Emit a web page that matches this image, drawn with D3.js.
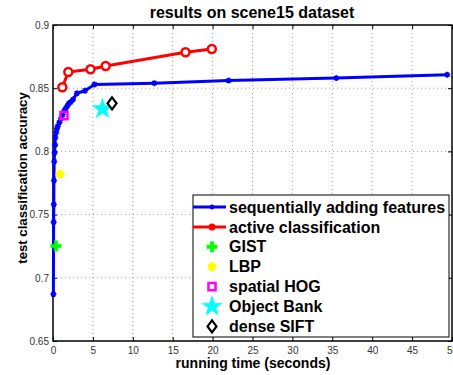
<!DOCTYPE html>
<html>
<head>
<meta charset="utf-8">
<script src="https://cdn.jsdelivr.net/npm/d3@7"></script>
<style>
  body { margin: 0; background: #fff; }
  svg { display: block; font-family: "Liberation Sans", Arial, sans-serif; }
</style>
</head>
<body>
<div id="chart"></div>
<script>
// data
const seqTime = [0.05, 0.08, 0.1, 0.12, 0.15, 0.2, 0.25, 0.3, 0.4, 0.5, 0.6, 0.8, 1.0, 1.2, 1.4, 1.6, 1.8, 2.0, 2.2, 2.5, 3.0, 4.0, 5.2, 12.7, 22.0, 35.5, 49.4];
const seqAcc = [0.687, 0.744, 0.758, 0.777, 0.792, 0.799, 0.805, 0.811, 0.815, 0.818, 0.820, 0.823, 0.826, 0.829, 0.832, 0.834, 0.836, 0.838, 0.839, 0.841, 0.846, 0.848, 0.853, 0.854, 0.856, 0.858, 0.8607];
const activeTime = [1.17, 1.92, 4.7, 6.6, 16.6, 19.9];
const activeAcc = [0.8507, 0.8628, 0.865, 0.8676, 0.8784, 0.881];
const singleNames = ["GIST", "LBP", "spatial HOG", "Object Bank", "dense SIFT"];
const singleTime = [0.375, 0.875, 1.375, 6.2, 7.4];
const singleAcc = [0.7252, 0.782, 0.8283, 0.8336, 0.838];
const xTicks = [0, 5, 10, 15, 20, 25, 30, 35, 40, 45, 50];
const yTicks = [0.65, 0.7, 0.75, 0.8, 0.85, 0.9];

const W = 453, H = 375;
const m = { left: 53, right: 1, top: 25, bottom: 34 };

const svg = d3.select("#chart").append("svg")
  .attr("width", W).attr("height", H);

const x = d3.scaleLinear().domain([0, 50]).range([m.left, W - m.right]);
const y = d3.scaleLinear().domain([0.65, 0.9]).range([H - m.bottom, m.top]);

// grid (dotted)
const grid = svg.append("g").attr("stroke", "#999").attr("stroke-dasharray", "1,3").attr("stroke-width", 1);
grid.selectAll("line.vx").data(xTicks.slice(1, -1)).enter().append("line")
  .attr("x1", d => x(d)).attr("x2", d => x(d)).attr("y1", y(0.9)).attr("y2", y(0.65));
grid.selectAll("line.hy").data(yTicks.slice(1, -1)).enter().append("line")
  .attr("x1", x(0)).attr("x2", x(50)).attr("y1", d => y(d)).attr("y2", d => y(d));

// axes with inward ticks
const fmtY = d => d3.format("")(+d.toFixed(2));
svg.append("g").attr("transform", `translate(0,${y(0.65)})`)
  .call(d3.axisBottom(x).tickValues(xTicks).tickSizeInner(-4).tickSizeOuter(0).tickPadding(6))
  .call(g => g.select(".domain").remove());
svg.append("g").attr("transform", `translate(0,${y(0.9)})`)
  .call(d3.axisTop(x).tickValues(xTicks).tickSizeInner(-4).tickSizeOuter(0).tickFormat(""))
  .call(g => g.select(".domain").remove());
svg.append("g").attr("transform", `translate(${x(0)},0)`)
  .call(d3.axisLeft(y).tickValues(yTicks).tickFormat(fmtY).tickSizeInner(-4).tickSizeOuter(0).tickPadding(4))
  .call(g => g.select(".domain").remove());
svg.append("g").attr("transform", `translate(${x(50)},0)`)
  .call(d3.axisRight(y).tickValues(yTicks).tickSizeInner(-4).tickSizeOuter(0).tickFormat(""))
  .call(g => g.select(".domain").remove());
svg.selectAll(".tick text").attr("font-size", 10).attr("fill", "#333")
  .attr("font-family", "Liberation Sans, Arial, sans-serif");
svg.selectAll(".tick line").attr("stroke", "#000");

// frame
svg.append("rect").attr("x", x(0)).attr("y", y(0.9))
  .attr("width", x(50) - x(0)).attr("height", y(0.65) - y(0.9))
  .attr("fill", "none").attr("stroke", "#000").attr("stroke-width", 1.5);

// series
const seq = seqTime.map((t, i) => [t, seqAcc[i]]);
const act = activeTime.map((t, i) => [t, activeAcc[i]]);
const line = d3.line().x(d => x(d[0])).y(d => y(d[1]));

function asterisk(g, cx, cy, s, color) {
  g.append("path")
    .attr("d", `M${cx - s},${cy}H${cx + s}M${cx},${cy - s}V${cy + s}M${cx - s * 0.7},${cy - s * 0.7}L${cx + s * 0.7},${cy + s * 0.7}M${cx - s * 0.7},${cy + s * 0.7}L${cx + s * 0.7},${cy - s * 0.7}`)
    .attr("stroke", color).attr("stroke-width", 1.6).attr("fill", "none");
}

svg.append("path").datum(seq).attr("d", line)
  .attr("fill", "none").attr("stroke", "#0000ff").attr("stroke-width", 3).attr("stroke-linejoin", "round");
const seqG = svg.append("g");
seq.forEach(d => asterisk(seqG, x(d[0]), y(d[1]), 3, "#0000ff"));

svg.append("path").datum(act).attr("d", line)
  .attr("fill", "none").attr("stroke", "#ff0000").attr("stroke-width", 3).attr("stroke-linejoin", "round");
svg.append("g").selectAll("circle").data(act).enter().append("circle")
  .attr("cx", d => x(d[0])).attr("cy", d => y(d[1])).attr("r", 4)
  .attr("fill", "#fff").attr("stroke", "#ff0000").attr("stroke-width", 2.5);

// single feature markers
const symbols = [
  { type: d3.symbolCross, size: 60, fill: "#00ff00", stroke: "#00ff00", sw: 0.5 },
  { type: d3.symbolCircle, size: 55, fill: "#ffff00", stroke: "#ffff00", sw: 0.5 },
  { type: d3.symbolSquare, size: 50, fill: "none", stroke: "#ff00ff", sw: 2.5 },
  { type: d3.symbolStar, size: 130, fill: "#00ffff", stroke: "#00ffff", sw: 0.5 },
  { type: "diamond", size: 0, fill: "#fff", stroke: "#000", sw: 2.2 }
];
function drawSym(g, i, cx, cy) {
  const s = symbols[i];
  if (s.type === "diamond") {
    g.append("path").attr("d", `M${cx},${cy - 6}L${cx + 4.5},${cy}L${cx},${cy + 6}L${cx - 4.5},${cy}Z`)
      .attr("fill", s.fill).attr("stroke", s.stroke).attr("stroke-width", s.sw);
  } else {
    g.append("path").attr("d", d3.symbol().type(s.type).size(s.size)())
      .attr("transform", `translate(${cx},${cy})`)
      .attr("fill", s.fill).attr("stroke", s.stroke).attr("stroke-width", s.sw);
  }
}
const singleG = svg.append("g");
singleNames.forEach((n, i) => drawSym(singleG, i, x(singleTime[i]), y(singleAcc[i])));

// legend
const lg = svg.append("g");
lg.append("rect").attr("x", 193).attr("y", 195).attr("width", 256).attr("height", 142)
  .attr("fill", "#fff").attr("stroke", "#000").attr("stroke-width", 1);
const rowY = i => 207 + i * 19.9;
const labels = ["sequentially adding features", "active classification"].concat(singleNames);
labels.forEach((t, i) => {
  lg.append("text").attr("x", 229).attr("y", rowY(i)).attr("dy", "0.35em")
    .attr("font-size", 16).attr("font-weight", "bold").attr("fill", "#000").text(t);
});
lg.append("line").attr("x1", 193).attr("x2", 226).attr("y1", rowY(0)).attr("y2", rowY(0))
  .attr("stroke", "#0000ff").attr("stroke-width", 3);
asterisk(lg, 212, rowY(0), 2.5, "#0000ff");
lg.append("line").attr("x1", 193).attr("x2", 226).attr("y1", rowY(1)).attr("y2", rowY(1))
  .attr("stroke", "#ff0000").attr("stroke-width", 3);
lg.append("circle").attr("cx", 212).attr("cy", rowY(1)).attr("r", 3.5).attr("fill", "#ff0000");
singleNames.forEach((n, i) => drawSym(lg, i, 212, rowY(i + 2)));

// titles
svg.append("text").attr("x", 252).attr("y", 18).attr("text-anchor", "middle")
  .attr("font-size", 16).attr("font-weight", "bold").text("results on scene15 dataset");
svg.append("text").attr("x", 253).attr("y", 368).attr("text-anchor", "middle")
  .attr("font-size", 14).attr("font-weight", "bold").text("running time (seconds)");
svg.append("text").attr("transform", `translate(27,178) rotate(-90)`)
  .attr("text-anchor", "middle").attr("font-size", 13.2).attr("font-weight", "bold")
  .text("test classification accuracy");
</script>
</body>
</html>
